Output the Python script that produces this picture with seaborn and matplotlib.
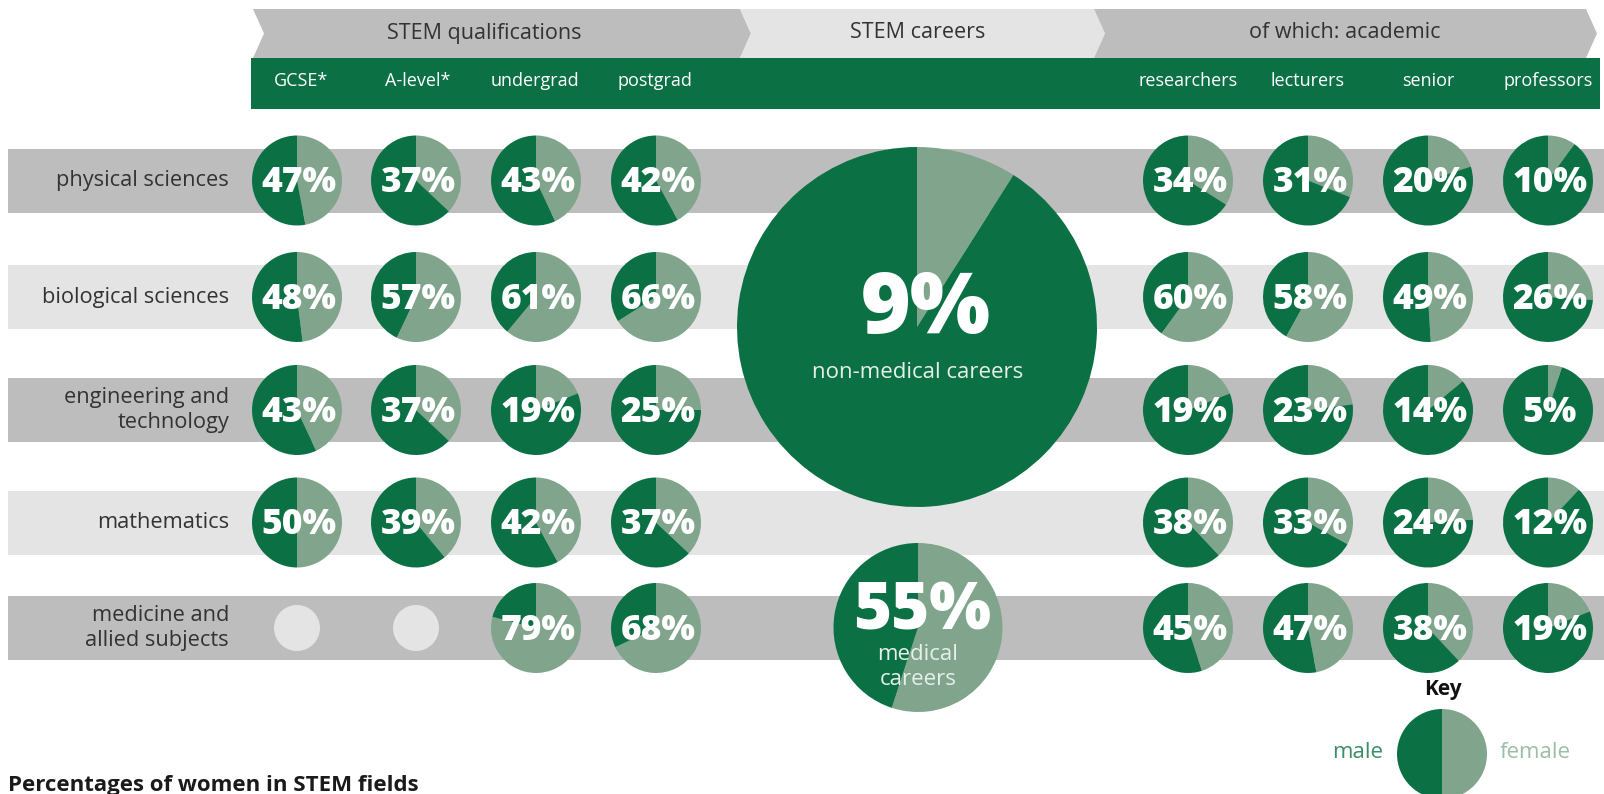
import matplotlib
matplotlib.use("Agg")
import matplotlib.pyplot as plt
from matplotlib.patches import Polygon, Rectangle, Circle
import seaborn as sns

# ---------------- data ----------------
row_labels = ["physical sciences", "biological sciences", "engineering and\ntechnology",
              "mathematics", "medicine and\nallied subjects"]
stage_labels = ["STEM qualifications", "STEM careers", "of which: academic"]
qual_labels = ["GCSE*", "A-level*", "undergrad", "postgrad"]
acad_labels = ["researchers", "lecturers", "senior", "professors"]

# percentage of women (None = not applicable)
gcse = [47, 48, 43, 50, None]
alevel = [37, 57, 37, 39, None]
undergrad = [43, 61, 19, 42, 79]
postgrad = [42, 66, 25, 37, 68]
researchers = [34, 60, 19, 38, 45]
lecturers = [31, 58, 23, 33, 47]
senior = [20, 49, 14, 24, 38]
professors = [10, 26, 5, 12, 19]

career_non_medical = 9
career_medical = 55
key_split = 50

title = "Percentages of women in STEM fields"

# ---------------- style ----------------
W, H = 1604, 794
sns.set_theme(style="white")
plt.rcParams['font.family'] = ['Open Sans', 'DejaVu Sans']

DARK, LIGHT = sns.color_palette(["#0b7145", "#80a58c"])
GREY = "#bdbdbd"
PALE = "#e4e4e4"
TXT = "#333333"

fig = plt.figure(figsize=(W / 100, H / 100), dpi=100)
ax = fig.add_axes([0, 0, 1, 1])


def Y(y):
    return H - y


# header chevrons
top, bot, mid, d = 9, 58, 33.5, 11
chev = [(253, 740, GREY), (740, 1094, PALE), (1094, 1586, GREY)]
for x0, x1, c in chev:
    pts = [(x0, top), (x1, top), (x1 + d, mid), (x1, bot), (x0, bot), (x0 + d, mid)]
    ax.add_patch(Polygon([(px, Y(py)) for px, py in pts], closed=True, color=c, lw=0, zorder=1))
stage_x = [484, 918, 1345]
for lab, sx in zip(stage_labels, stage_x):
    ax.text(sx, Y(33), lab, ha="center", va="center", fontsize=15.5, color=TXT, zorder=5)

# green sub-header bar
ax.add_patch(Rectangle((251, Y(109)), 1600 - 251, 51, color=DARK, lw=0, zorder=1))

qual_x = [297, 416, 536, 656]
acad_x = [1188, 1308, 1428, 1548]
qual_text_x = [301, 418, 535, 655]
for lab, x in zip(qual_labels, qual_text_x):
    ax.text(x, Y(81), lab, ha="center", va="center", fontsize=13, color="white", zorder=5)
for lab, x in zip(acad_labels, acad_x):
    ax.text(x, Y(81), lab, ha="center", va="center", fontsize=13, color="white", zorder=5)

# row bands
band_y = [180.5, 297, 410, 522.5, 628]
band_h = 64
band_colors = [GREY, PALE, GREY, PALE, GREY]
for yc, c, lab in zip(band_y, band_colors, row_labels):
    ax.add_patch(Rectangle((8, Y(yc + band_h / 2)), W - 8, band_h, color=c, lw=0, zorder=1))
    ax.text(229, Y(yc), lab, ha="right", va="center", fontsize=15.7, color=TXT,
            linespacing=1.25, zorder=5)


def pie(cx, cy, r, female):
    ax.pie([female, 100 - female], colors=[LIGHT, DARK], startangle=90, counterclock=False,
           center=(cx, Y(cy)), radius=r, frame=True,
           wedgeprops=dict(linewidth=0, zorder=3))


R = 45
qual_series = [gcse, alevel, undergrad, postgrad]
acad_series = [researchers, lecturers, senior, professors]
for xs, series_list in ((qual_x, qual_series), (acad_x, acad_series)):
    for x, series in zip(xs, series_list):
        for yc, v in zip(band_y, series):
            if v is None:
                ax.add_patch(Circle((x, Y(yc)), 23, color=PALE, lw=0, zorder=3))
                continue
            pie(x, yc, R, v)
            ax.text(x + 2, Y(yc + 3), f"{v}%", ha="center", va="center", fontsize=25.5,
                    fontweight=800, color="white", zorder=6)

# careers pies
pie(917, 327, 180, career_non_medical)
ax.text(926, Y(310), f"{career_non_medical}%", ha="center", va="center", fontsize=61,
        fontweight=800, color="white", zorder=6)
ax.text(918, Y(372), "non-medical careers", ha="center", va="center", fontsize=16,
        color="#e8efea", zorder=6)

pie(918, 627.5, 84.5, career_medical)
ax.text(922, Y(612), f"{career_medical}%", ha="center", va="center", fontsize=47,
        fontweight=800, color="white", zorder=6)
ax.text(918, Y(667), "medical\ncareers", ha="center", va="center", fontsize=16,
        color="#e8efea", linespacing=1.25, zorder=6)

# key
ax.text(1443, Y(690), "Key", ha="center", va="center", fontsize=15, fontweight="bold",
        color="#111111", zorder=6)
pie(1442, 754, 45, key_split)
ax.text(1383, Y(753), "male", ha="right", va="center", fontsize=16, color="#3d8d68", zorder=6)
ax.text(1500, Y(753), "female", ha="left", va="center", fontsize=16, color="#9cbda6", zorder=6)

# title
ax.text(8, Y(785), title, ha="left", va="center", fontsize=16, fontweight="bold",
        color="#1a1a1a", zorder=6)

ax.set_xlim(0, W)
ax.set_ylim(0, H)
ax.set_aspect("equal")
ax.axis("off")

fig.savefig("out.png", dpi=100)
